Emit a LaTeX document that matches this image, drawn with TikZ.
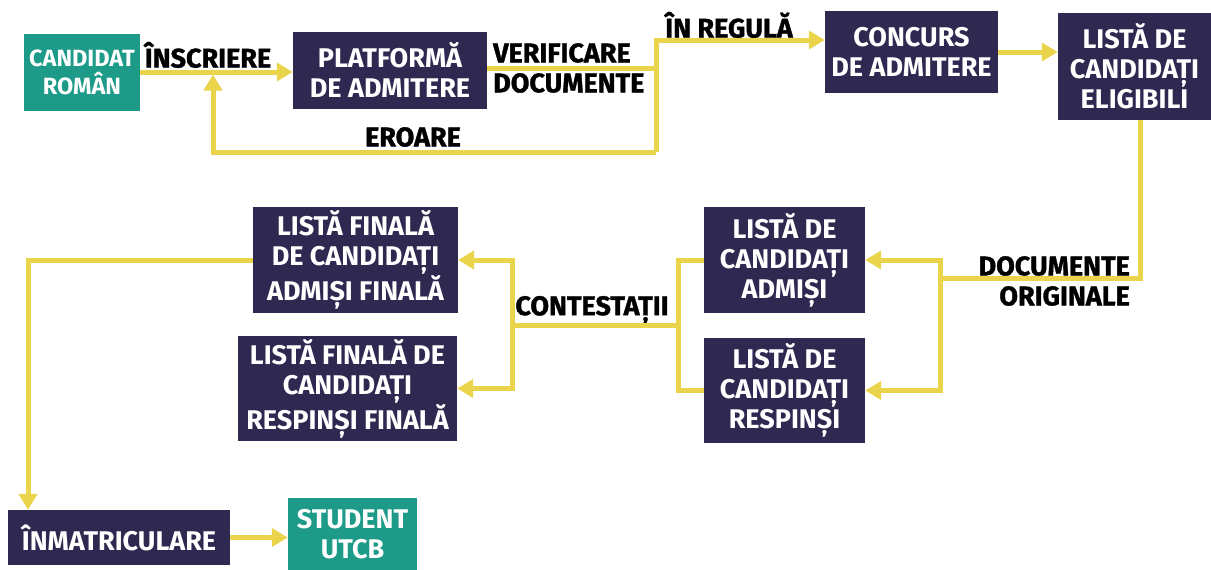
\documentclass[tikz,border=0pt]{standalone}
\usepackage{fontspec}
\setmainfont{Fira Sans}
\newfontfamily\condfont{Fira Sans}[FakeBold=1.2]
\usepackage{tikz}
\usetikzlibrary{arrows.meta,calc}
\definecolor{teal}{HTML}{1D9A88}
\definecolor{navy}{HTML}{2F2951}
\definecolor{yel}{HTML}{E9D44C}
\tikzset{
  box/.style={fill=navy,text=white,inner sep=0pt,align=center,font=\fontsize{27}{30}\selectfont\bfseries},
  startbox/.style={box,fill=teal},
  lbl/.style={inner sep=0pt,text=black,font=\condfont\fontsize{27}{30}\selectfont\bfseries},
  wire/.style={draw=yel,line width=5pt},
  flow/.style={wire,-{Triangle[length=16pt,width=18pt]}}
}
\begin{document}
\begin{tikzpicture}[x=1pt,y=-1pt]
    \useasboundingbox (0,0) rectangle (1211,570);
    \node[startbox,minimum width=116pt,minimum height=77pt,font=\fontsize{23.5}{28}\selectfont\bfseries] (cand) at (82,72) {CANDIDAT\\ROMÂN};
    \node[box,minimum width=194pt,minimum height=77pt] (plat) at (390,70) {PLATFORMĂ\\DE ADMITERE};
    \node[box,minimum width=173pt,minimum height=82pt] (conc) at (911.5,52) {CONCURS\\DE ADMITERE};
    \node[box,minimum width=153pt,minimum height=107pt] (elig) at (1134.5,66.5) {LISTĂ DE\\CANDIDAȚI\\ELIGIBILI};
    \node[box,minimum width=161pt,minimum height=106pt] (adm) at (784.5,260) {LISTĂ DE\\CANDIDAȚI\\ADMIȘI};
    \node[box,minimum width=161pt,minimum height=105pt] (resp) at (784.5,390.5) {LISTĂ DE\\CANDIDAȚI\\RESPINȘI};
    \node[box,minimum width=205pt,minimum height=106pt] (fadm) at (355.5,260) {LISTĂ FINALĂ\\DE CANDIDAȚI\\ADMIȘI FINALĂ};
    \node[box,minimum width=219pt,minimum height=105pt] (fresp) at (347.5,388.5) {LISTĂ FINALĂ DE\\CANDIDAȚI\\RESPINȘI FINALĂ};
    \node[box,minimum width=222pt,minimum height=55pt] (inm) at (119,537.5) {ÎNMATRICULARE};
    \node[startbox,minimum width=129pt,minimum height=72pt] (stud) at (352.5,534) {STUDENT\\UTCB};
    \node[lbl] (insc) at (208,55) {ÎNSCRIERE};
    \node[lbl,anchor=west,align=left] (verif) at (493,68) {VERIFICARE\\DOCUMENTE};
    \node[lbl] (regula) at (729,25) {ÎN REGULĂ};
    \node[lbl] (eroare) at (413,137) {EROARE};
    \node[lbl,anchor=east,align=right] (orig) at (1130,281) {DOCUMENTE\\ORIGINALE};
    \node[lbl] (contest) at (592,310) {CONTESTAȚII};
    \coordinate (split) at (656,68);
    \coordinate (ok) at (656,40);
    \coordinate (err) at (656,152);
    \coordinate (back) at (213,152);
    \coordinate (drop) at (1140,0);
    \coordinate (join) at (940,278);
    \coordinate (cont) at (678,325);
    \coordinate (fork) at (512,325);
    \coordinate (down) at (28,263);
    \draw[flow] (cand.east) -- (cand.east -| plat.west);
    \draw[wire] (plat.east |- split) -- (split);
    \draw[flow] (err) -- (ok) -- (ok -| conc.west);
    \draw[flow] (err) -- (back) -- ($(back |- cand.east)+(0,2.5)$);
    \draw[flow] (conc.east) -- (conc.east -| elig.west);
    \draw[wire] (drop |- elig.south) |- (join);
    \draw[flow] (join) |- (adm.east);
    \draw[flow] (join) |- (resp.east);
    \draw[wire] (adm.west) -| (cont) |- (resp.west);
    \draw[wire] (cont) -- (fork);
    \draw[flow] (fork) |- (fadm.east);
    \draw[flow] (fork) |- (fresp.east);
    \draw[flow] (fadm.west) -- (fadm.west -| down) -- (down |- inm.north);
    \draw[flow] (inm.east) -- (inm.east -| stud.west);
\end{tikzpicture}
\end{document}
